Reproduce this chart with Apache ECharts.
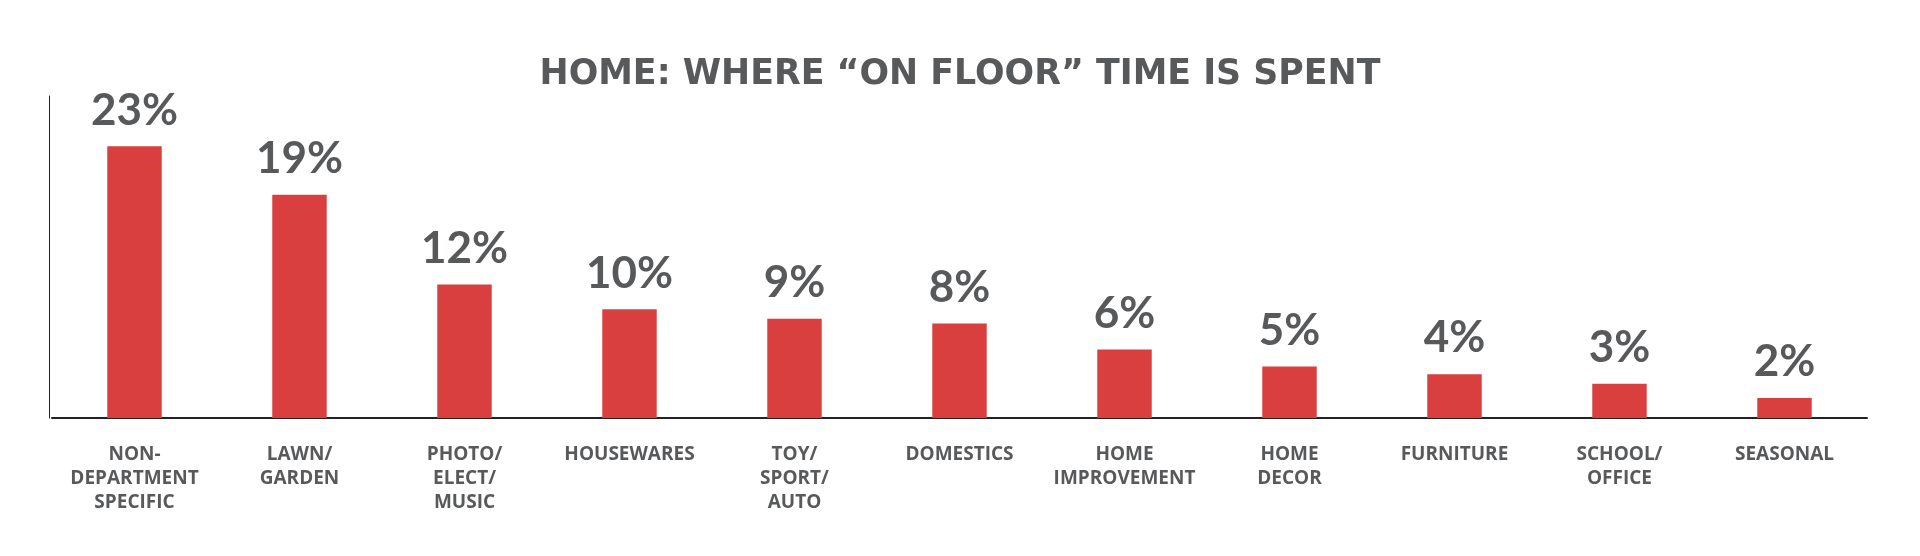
<!DOCTYPE html>
<html>
<head>
<meta charset="utf-8">
<script src="https://cdn.jsdelivr.net/npm/echarts@6/dist/echarts.min.js"></script>
<style>
html,body{margin:0;padding:0;background:#fff;}
#chart{width:1920px;height:556px;}
</style>
</head>
<body>
<div id="chart"></div>
<script>
const titleText = 'HOME: WHERE \u201cON FLOOR\u201d TIME IS SPENT';
const categories = ['NON-\nDEPARTMENT\nSPECIFIC', 'LAWN/\nGARDEN', 'PHOTO/\nELECT/\nMUSIC', 'HOUSEWARES', 'TOY/\nSPORT/\nAUTO', 'DOMESTICS', 'HOME\nIMPROVEMENT', 'HOME\nDECOR', 'FURNITURE', 'SCHOOL/\nOFFICE', 'SEASONAL'];
const barValues = [23, 18.9, 11.3, 9.2, 8.4, 8.0, 5.8, 4.35, 3.7, 2.9, 1.7];
const valueLabels = ['23%', '19%', '12%', '10%', '9%', '8%', '6%', '5%', '4%', '3%', '2%'];

const chart = echarts.init(document.getElementById('chart'));
const textColor = '#58595b';
chart.setOption({
  animation: false,
  backgroundColor: '#ffffff',
  title: {
    text: titleText,
    left: 'center',
    top: 50,
    textStyle: { fontFamily: 'DejaVu Sans', fontWeight: 'bold', fontSize: 34.8, lineHeight: 40, color: textColor }
  },
  grid: { left: 52, right: 53, top: 96, bottom: 138, containLabel: false },
  xAxis: {
    type: 'category',
    data: categories,
    axisLine: { lineStyle: { color: '#222', width: 2 } },
    axisTick: { show: false },
    axisLabel: {
      interval: 0,
      margin: 25,
      fontFamily: 'Open Sans',
      fontWeight: 'bold',
      fontSize: 19,
      lineHeight: 23.7,
      color: textColor,
      align: 'center'
    }
  },
  yAxis: {
    type: 'value',
    min: 0,
    max: 27.26,
    offset: 3,
    axisLine: { show: true, lineStyle: { color: '#222', width: 1 } },
    axisTick: { show: false },
    axisLabel: { show: false },
    splitLine: { show: false }
  },
  series: [{
    type: 'bar',
    data: barValues,
    barWidth: '33%',
    itemStyle: { color: '#da3f3f' },
    label: {
      show: true,
      position: 'top',
      distance: 14,
      formatter: p => valueLabels[p.dataIndex],
      fontFamily: 'Lato',
      fontWeight: 'bold',
      fontSize: 44,
      color: textColor
    }
  }]
});
</script>
</body>
</html>
